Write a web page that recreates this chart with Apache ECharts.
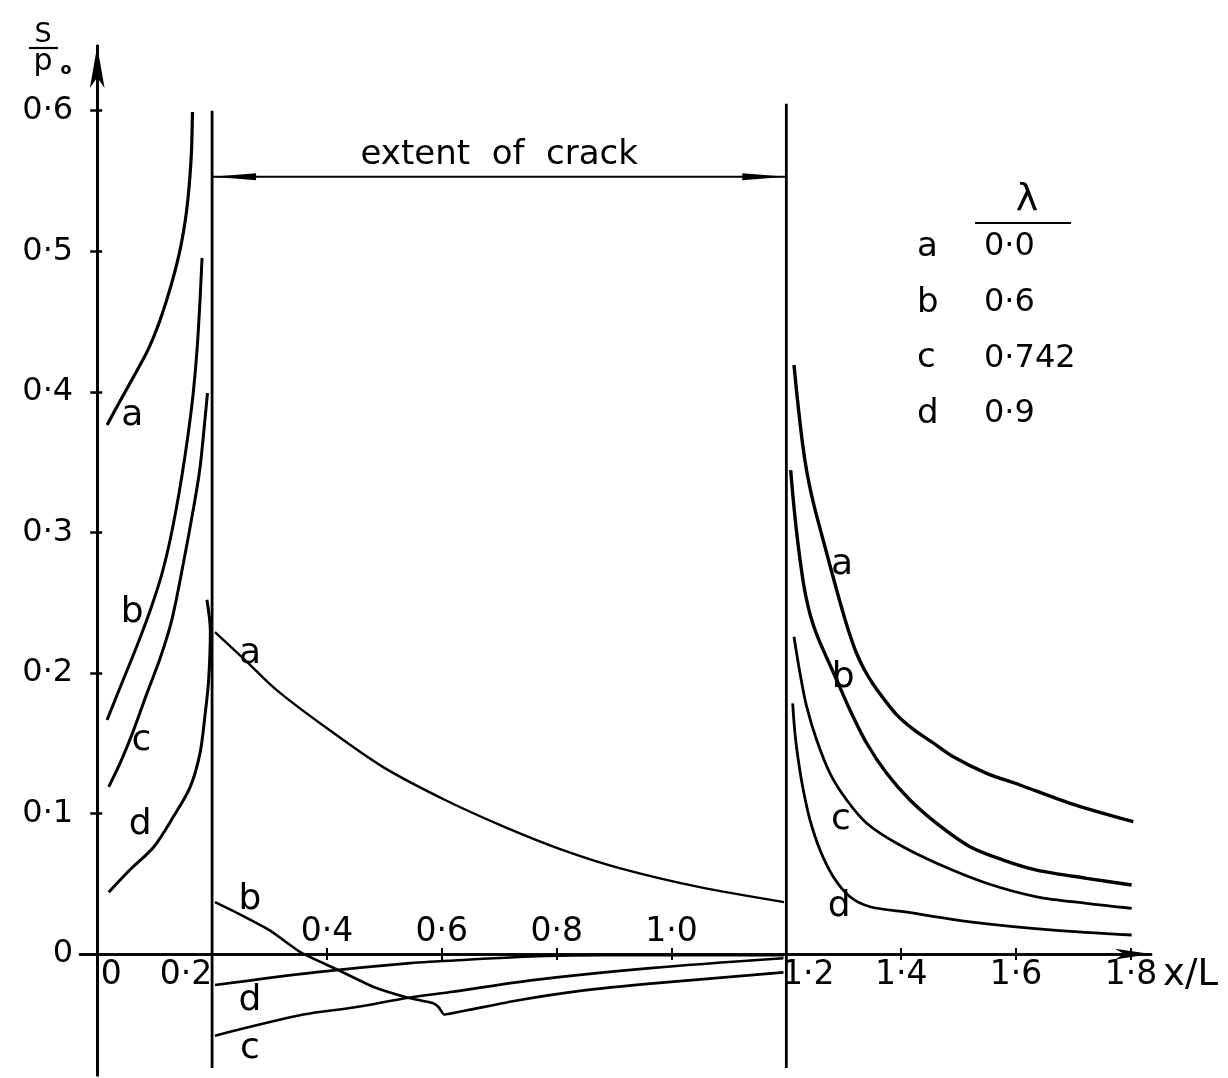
<!DOCTYPE html>
<html>
<head>
<meta charset="utf-8">
<script src="https://cdn.jsdelivr.net/npm/echarts@6/dist/echarts.min.js"></script>
<style>
  html, body { margin: 0; padding: 0; background: #fff; }
  #chart { width: 1228px; height: 1078px; }
</style>
</head>
<body>
<div id="chart"></div>
<script>
// axis values (x/L and S/p0)
const yLabelValues = [0, 0.1, 0.2, 0.3, 0.4, 0.5, 0.6];
const yTickValues = [0.1, 0.2, 0.3, 0.4, 0.5, 0.6];
const xLabelsBelow = [0, 0.2, 1.2, 1.4, 1.6, 1.8];
const xLabelsAbove = [0.4, 0.6, 0.8, 1.0];
const xTickValues = [0.4, 0.6, 0.8, 1.0, 1.4, 1.6, 1.8];
const crackStart = 0.2;
const crackEnd = 1.2;
const crackArrowLevel = 0.553;

// legend: curve key and lambda
const legendKeys = ['a', 'b', 'c', 'd'];
const lambdaValues = ['0·0', '0·6', '0·742', '0·9'];

// ahead of the crack, 0 < x/L < 0.2
const leftA = [[0.0172, 0.3764], [0.0345, 0.3896], [0.0519, 0.4024], [0.0693, 0.4152], [0.0867, 0.4284],
  [0.0989, 0.4397], [0.1094, 0.4510], [0.1198, 0.4638], [0.1302, 0.4780], [0.1389, 0.4915],
  [0.1459, 0.5043], [0.1529, 0.5207], [0.1581, 0.5378], [0.1616, 0.5541], [0.1642, 0.5719], [0.1659, 0.5991]];
const leftB = [[0.0171, 0.1665], [0.0345, 0.1843], [0.0536, 0.2035], [0.0745, 0.2249], [0.0937, 0.2462],
  [0.1111, 0.2683], [0.1250, 0.2910], [0.1372, 0.3159], [0.1477, 0.3408], [0.1581, 0.3693],
  [0.1668, 0.3977], [0.1738, 0.4297], [0.1790, 0.4653], [0.1825, 0.4952]];
const leftC = [[0.020, 0.119], [0.040, 0.136], [0.063, 0.159], [0.087, 0.186], [0.110, 0.211],
  [0.130, 0.238], [0.150, 0.278], [0.168, 0.318], [0.179, 0.346], [0.188, 0.382], [0.192, 0.399]];
const leftD = [[0.020, 0.044], [0.057, 0.060], [0.098, 0.076], [0.133, 0.098], [0.162, 0.119],
  [0.179, 0.143], [0.188, 0.171], [0.194, 0.195], [0.197, 0.230], [0.191, 0.252]];

// along the crack, 0.2 < x/L < 1.2
const crackA = [[0.205, 0.229], [0.258, 0.209], [0.312, 0.188], [0.399, 0.161], [0.498, 0.133],
  [0.604, 0.110], [0.712, 0.090], [0.811, 0.074], [0.911, 0.061], [1.045, 0.048], [1.196, 0.037]];
const crackB = [[0.205, 0.037], [0.245, 0.029], [0.300, 0.017], [0.355, 0.001], [0.418, -0.011],
  [0.479, -0.023], [0.541, -0.031], [0.585, -0.035], [0.595, -0.038], [0.604, -0.043],
  [0.644, -0.040], [0.731, -0.033], [0.844, -0.026], [0.963, -0.021], [1.195, -0.013]];
const crackC = [[0.205, -0.058], [0.359, -0.043], [0.446, -0.038], [0.542, -0.031], [0.615, -0.027],
  [0.759, -0.0185], [0.963, -0.010], [1.195, -0.003]];
const crackD = [[0.205, -0.022], [0.379, -0.013], [0.545, -0.0064], [0.644, -0.004], [0.778, -0.0014],
  [0.876, -0.0007], [1.196, -0.0007]];

// beyond the crack, x/L > 1.2
const rightA = [[1.2133, 0.4191], [1.2185, 0.3977], [1.2237, 0.3785], [1.2290, 0.3607], [1.2351, 0.3444],
  [1.2420, 0.3301], [1.2498, 0.3166], [1.2603, 0.3003], [1.2725, 0.2818], [1.2847, 0.2633],
  [1.2969, 0.2455], [1.3090, 0.2291], [1.3213, 0.2149], [1.3352, 0.2028], [1.3509, 0.1921],
  [1.3700, 0.1814], [1.3927, 0.1700], [1.4206, 0.1601], [1.4537, 0.1508], [1.4907, 0.1404],
  [1.5488, 0.1286], [1.6068, 0.1203], [1.6939, 0.1073], [1.8042, 0.0942]];
const rightB = [[1.2075, 0.3443], [1.2121, 0.3230], [1.2171, 0.3031], [1.2230, 0.2832], [1.2300, 0.2633],
  [1.2377, 0.2476], [1.2464, 0.2348], [1.2568, 0.2234], [1.2690, 0.2120], [1.2877, 0.1950],
  [1.3108, 0.1736], [1.3399, 0.1500], [1.3747, 0.1286], [1.4153, 0.1096], [1.4618, 0.0930],
  [1.5198, 0.0764], [1.5778, 0.0669], [1.6359, 0.0598], [1.7230, 0.0539], [1.8013, 0.0492]];
const rightC = [[1.2133, 0.2258], [1.2238, 0.1998], [1.2354, 0.1760], [1.2528, 0.1523], [1.2760, 0.1286],
  [1.3051, 0.1096], [1.3399, 0.0931], [1.3921, 0.0788], [1.4618, 0.0646], [1.5488, 0.0504],
  [1.6359, 0.0408], [1.7230, 0.0361], [1.8013, 0.0326]];
const rightD = [[1.2110, 0.1784], [1.2150, 0.1571], [1.2208, 0.1381], [1.2295, 0.1167], [1.2412, 0.0954],
  [1.2586, 0.0741], [1.2817, 0.0551], [1.3108, 0.0408], [1.3457, 0.0337], [1.4036, 0.0302],
  [1.5198, 0.0230], [1.6648, 0.0171], [1.8013, 0.0136]];

// letters written next to the curves: [text, x/L, S/p0]
const curveTags = [
  ['a', 0.061, 0.383], ['b', 0.061, 0.243], ['c', 0.077, 0.1515], ['d', 0.075, 0.092],
  ['a', 0.266, 0.214], ['b', 0.266, 0.0384], ['d', 0.266, -0.0334], ['c', 0.266, -0.0669],
  ['a', 1.297, 0.277], ['b', 1.299, 0.197], ['c', 1.295, 0.096], ['d', 1.292, 0.034]
];
const crackNote = ['extent  of  crack', 0.7, 0.5685];

const FONT = 'DejaVu Sans';
const INK = '#000';

function fmt(v) {
  if (v === 0) return '0';
  return v.toFixed(1).replace('.', '·');
}

// horizontal nudge (px) of some labels below the axis, as in the drawing
const belowNudge = {'0': 14, '0.2': -26, '1.2': 22};
const belowRich = {};
Object.keys(belowNudge).forEach(function (k) {
  const n = belowNudge[k];
  belowRich['n' + Math.abs(n) + (n > 0 ? 'r' : 'l')] = {
    padding: n > 0 ? [0, 0, 0, 2 * n] : [0, -2 * n, 0, 0]
  };
});

const X_MIN = -0.03, X_MAX = 1.835, Y_MIN = -0.086, Y_MAX = 0.646;
const W = 1228, H = 1078;
const GRID = {left: 80, right: 77, top: 46, bottom: 3};
const plotW = W - GRID.left - GRID.right;
const plotH = H - GRID.top - GRID.bottom;
// pixel place of the zero lines, so the axes can be moved onto them
const zeroY = GRID.top + Y_MAX / (Y_MAX - Y_MIN) * plotH;
const zeroX = GRID.left + (-X_MIN) / (X_MAX - X_MIN) * plotW;

function curve(data, width, smooth) {
  return {
    type: 'line', data: data, symbol: 'none', silent: true,
    smooth: smooth == null ? 0.3 : smooth,
    lineStyle: {color: INK, width: width || 2.5}
  };
}

const ARROW_LEN = 44, ARROW_W = 7;
const arrowLeft = 'path://M0,3.5L44,0L44,7Z';
const arrowRight = 'path://M44,3.5L0,0L0,7Z';

const chart = echarts.init(document.getElementById('chart'));

const option = {
  backgroundColor: '#fff',
  animation: false,
  grid: {left: GRID.left, right: GRID.right, top: GRID.top, bottom: GRID.bottom, containLabel: false, outerBoundsMode: 'none'},
  xAxis: [
    {
      type: 'value', min: X_MIN, max: X_MAX, position: 'bottom', offset: -(H - GRID.bottom - zeroY),
      name: 'x/L', nameLocation: 'end', nameGap: 5,
      nameTextStyle: {fontFamily: FONT, fontSize: 37, color: INK, verticalAlign: 'top', padding: [3, 0, 0, 0]},
      axisLine: {
        onZero: false, symbol: ['none', 'arrow'], symbolSize: [8, 36],
        lineStyle: {color: INK, width: 2.5}
      },
      axisTick: {show: true, customValues: xTickValues, length: 6, lineStyle: {color: INK, width: 2}},
      axisLabel: {
        customValues: xLabelsBelow, margin: 5, hideOverlap: false,
        fontFamily: FONT, fontSize: 33, color: INK, rich: belowRich,
        formatter: function (v) {
          const n = belowNudge[String(v)];
          if (!n) return fmt(v);
          return '{n' + Math.abs(n) + (n > 0 ? 'r' : 'l') + '|' + fmt(v) + '}';
        }
      },
      splitLine: {show: false}
    },
    {
      type: 'value', min: X_MIN, max: X_MAX, position: 'top', offset: -(zeroY - GRID.top),
      axisLine: {onZero: false, symbol: 'none', lineStyle: {color: INK, width: 2.5}},
      axisTick: {show: true, customValues: xTickValues, length: 6, lineStyle: {color: INK, width: 2}},
      axisLabel: {
        customValues: xLabelsAbove, margin: 5, hideOverlap: false,
        fontFamily: FONT, fontSize: 33, color: INK, formatter: fmt
      },
      splitLine: {show: false}
    }
  ],
  yAxis: [
    {
      type: 'value', min: Y_MIN, max: Y_MAX, position: 'left', offset: -(zeroX - GRID.left),
      axisLine: {
        onZero: false, symbol: ['none', 'arrow'], symbolSize: [11, 42],
        lineStyle: {color: INK, width: 3}
      },
      axisTick: {show: true, customValues: yTickValues, length: 7, lineStyle: {color: INK, width: 2.5}},
      axisLabel: {
        customValues: yLabelValues, margin: 24, hideOverlap: false,
        fontFamily: FONT, fontSize: 32, color: INK, formatter: fmt
      },
      splitLine: {show: false}
    },
    {
      type: 'value', min: Y_MIN, max: Y_MAX, position: 'right', offset: -(W - GRID.right - zeroX),
      axisLine: {onZero: false, symbol: 'none', lineStyle: {color: INK, width: 3}},
      axisTick: {show: true, customValues: yTickValues, length: 5, lineStyle: {color: INK, width: 2.5}},
      axisLabel: {show: false},
      splitLine: {show: false}
    }
  ],
  series: [
    curve(leftA, 3.2), curve(leftB, 3), curve(leftC, 3), curve(leftD, 3),
    curve(crackA, 2.4), curve(crackB, 2.6, 0.15), curve(crackC, 2.6), curve(crackD, 2.6),
    curve(rightA, 3.4), curve(rightB, 3.4), curve(rightC, 2.8), curve(rightD, 2.8),
    // crack boundaries
    curve([[crackStart, Y_MIN + 0.005], [crackStart, 0.6]], 2.8, false),
    curve([[crackEnd, Y_MIN + 0.005], [crackEnd, 0.605]], 2.8, false),
    // extent of crack, arrow to both boundaries
    {
      type: 'line', silent: true, smooth: false, showAllSymbol: true,
      lineStyle: {color: INK, width: 2.2},
      itemStyle: {color: INK},
      data: [
        {value: [crackStart, crackArrowLevel], symbol: arrowLeft, symbolSize: [ARROW_LEN, ARROW_W],
          symbolKeepAspect: false, symbolOffset: [ARROW_LEN / 2, 0]},
        {value: [crackEnd, crackArrowLevel], symbol: arrowRight, symbolSize: [ARROW_LEN, ARROW_W],
          symbolKeepAspect: false, symbolOffset: [-ARROW_LEN / 2, 0]}
      ]
    },
    {
      type: 'scatter', silent: true, symbolSize: 1,
      itemStyle: {color: 'transparent', opacity: 1},
      data: curveTags.map(function (t) { return {name: t[0], value: [t[1], t[2]]}; })
        .concat([{name: crackNote[0], value: [crackNote[1], crackNote[2]], label: {fontSize: 34}}]),
      label: {
        show: true, position: 'inside', formatter: '{b}', opacity: 1,
        fontFamily: FONT, fontSize: 36, color: INK
      }
    }
  ],
  graphic: [
    // y-axis title S / p0
    {type: 'text', x: 43, y: 35, style: {text: 'S', font: '27px "DejaVu Sans"', fill: INK, align: 'center', verticalAlign: 'middle'}},
    {type: 'line', shape: {x1: 29, y1: 48, x2: 58, y2: 48}, style: {stroke: INK, lineWidth: 2.2}},
    {type: 'text', x: 43, y: 62, style: {text: 'p', font: '30px "DejaVu Sans"', fill: INK, align: 'center', verticalAlign: 'middle'}},
    {type: 'text', x: 66, y: 70, style: {text: 'o', font: 'bold 16px "DejaVu Sans"', fill: INK, align: 'center', verticalAlign: 'middle'}},
    // legend header
    {type: 'text', x: 1027, y: 200, style: {text: 'λ', font: '38px "DejaVu Sans"', fill: INK, align: 'center', verticalAlign: 'middle'}},
    {type: 'line', shape: {x1: 975, y1: 223, x2: 1071, y2: 223}, style: {stroke: INK, lineWidth: 2.2}}
  ].concat(legendKeys.map(function (k, i) {
    return {type: 'text', x: 917, y: 247 + i * 55.7, style: {text: k, font: '34px "DejaVu Sans"', fill: INK, align: 'left', verticalAlign: 'middle'}};
  })).concat(lambdaValues.map(function (v, i) {
    return {type: 'text', x: 984, y: 247 + i * 55.7, style: {text: v, font: '32px "DejaVu Sans"', fill: INK, align: 'left', verticalAlign: 'middle'}};
  }))
};

chart.setOption(option);
</script>
</body>
</html>
